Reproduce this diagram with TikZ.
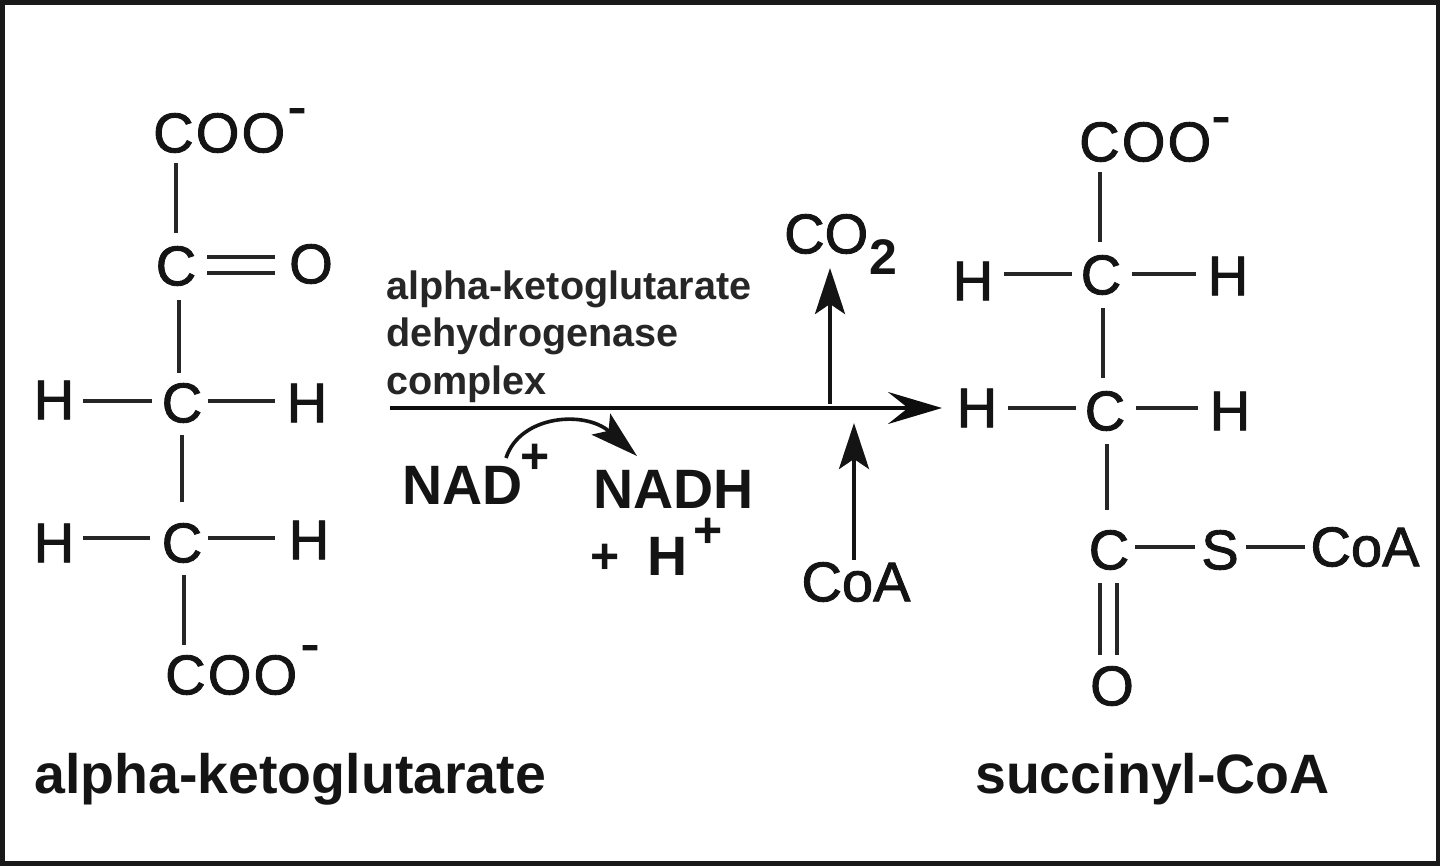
\documentclass[tikz,border=0pt]{standalone}
\usepackage{fontspec}
\setmainfont{Liberation Sans}
\newfontfamily\atomfont[FakeBold=1.6]{Liberation Sans}
\newfontfamily\coofont[FakeBold=1.6,LetterSpace=4]{Liberation Sans}
\usetikzlibrary{arrows.meta}
\tikzset{
 atom/.style={inner sep=0pt,font=\atomfont\fontsize{56}{56}\selectfont,text=black!92},
 coo/.style={inner sep=0pt,anchor=west,font=\coofont\fontsize{56}{56}\selectfont,text=black!92},
 sm/.style={inner sep=0pt,anchor=west,font=\bfseries\fontsize{39.6}{39.6}\selectfont,text=black!85},
 lbl/.style={inner sep=0pt,anchor=west,font=\bfseries\fontsize{55.5}{55.5}\selectfont,text=black!92},
 sup/.style={inner sep=0pt,font=\bfseries\fontsize{50}{50}\selectfont,text=black!92},
 bond/.style={line width=4pt,black!85},
 arr/.style={line width=4pt,black!92,-{Stealth[length=46pt,width=30pt,inset=10pt]}},
 mainarr/.style={line width=4pt,black!95,-{Stealth[length=54pt,width=32pt,inset=20pt]}},
}
\begin{document}
\begin{tikzpicture}[x=1pt,y=-1pt]
\useasboundingbox (0,0) rectangle (1440,865);
\draw[line width=5pt,black!90] (2,2) rectangle (1438,863);
\node[coo] (coo1) at (153,133) {COO};
\node[atom] (m1) at (297,117) {-};
\node[atom] (c1) at (176,266) {C};
\node[atom] (o1) at (311,264) {O};
\node[atom] (c2) at (182,403) {C};
\node[atom] (h1) at (54,400) {H};
\node[atom] (h2) at (307,403) {H};
\node[atom] (c3) at (182,543) {C};
\node[atom] (h3) at (54,543) {H};
\node[atom] (h4) at (309,540) {H};
\node[coo] (coo2) at (165,675) {COO};
\node[atom] (m2) at (310,654) {-};
\draw[bond] (176,163) -- (176,233);
\draw[bond] (207,257) -- (275,257);
\draw[bond] (207,273) -- (275,273);
\draw[bond] (179,300) -- (179,373);
\draw[bond] (83,401) -- (152,401);
\draw[bond] (208,401) -- (275,401);
\draw[bond] (182,435) -- (182,502);
\draw[bond] (83,538) -- (150,538);
\draw[bond] (208,538) -- (275,538);
\draw[bond] (184,575) -- (184,645);
\node[lbl] (n1) at (34,779) {alpha-ketoglutarate};
\node[sm] (e1) at (386,289) {alpha-ketoglutarate};
\node[sm] (e2) at (386,336) {dehydrogenase};
\node[sm] (e3) at (386,384) {complex};
\coordinate (as) at (390,408);
\coordinate (pr) at (942,408);
\draw[mainarr] (as) -- (pr);
\node[atom,anchor=west] (co2) at (784,234) {CO};
\node[sup] (two) at (883,257) {2};
\coordinate (cob) at (830,404);
\coordinate (cot) at (830,268);
\draw[arr] (cob) -- (cot);
\node[atom] (coa) at (856,582) {CoA};
\coordinate (cab) at (854,560);
\coordinate (cat) at (854,423);
\draw[arr] (cab) -- (cat);
\node[lbl] (nad) at (402,485) {NAD};
\node[sup] (p1) at (535,459) {+};
\node[lbl] (nadh) at (593,489) {NADH};
\node[sup] (p2) at (605,559) {+};
\node[lbl] (hh) at (647,556) {H};
\node[sup] (p3) at (708,533) {+};
\coordinate (cs) at (506,458);
\coordinate (ce) at (637,456);
\draw[line width=3.6pt,black!92,-{Stealth[length=48pt,width=28pt,inset=10pt]}] (cs) .. controls (520,415) and (585,410) .. (ce);
\node[coo] (coo3) at (1079,142) {COO};
\node[atom] (m3) at (1221,126) {-};
\node[atom] (c4) at (1101,275) {C};
\node[atom] (h5) at (973,281) {H};
\node[atom] (h6) at (1228,276) {H};
\node[atom] (c5) at (1105,411) {C};
\node[atom] (h7) at (977,408) {H};
\node[atom] (h8) at (1230,411) {H};
\node[atom] (c6) at (1109,550) {C};
\node[atom] (s) at (1220,550) {S};
\node[atom] (coa2) at (1365,547) {CoA};
\node[atom] (o2) at (1112,686) {O};
\draw[bond] (1100,172) -- (1100,242);
\draw[bond] (1004,274) -- (1072,274);
\draw[bond] (1132,274) -- (1196,274);
\draw[bond] (1103,308) -- (1103,378);
\draw[bond] (1008,408) -- (1076,408);
\draw[bond] (1136,408) -- (1198,408);
\draw[bond] (1107,444) -- (1107,510);
\draw[bond] (1135,547) -- (1195,547);
\draw[bond] (1246,547) -- (1305,547);
\draw[bond] (1100,583) -- (1100,655);
\draw[bond] (1117,583) -- (1117,655);
\node[lbl] (n2) at (975,779) {succinyl-CoA};
\end{tikzpicture}
\end{document}
